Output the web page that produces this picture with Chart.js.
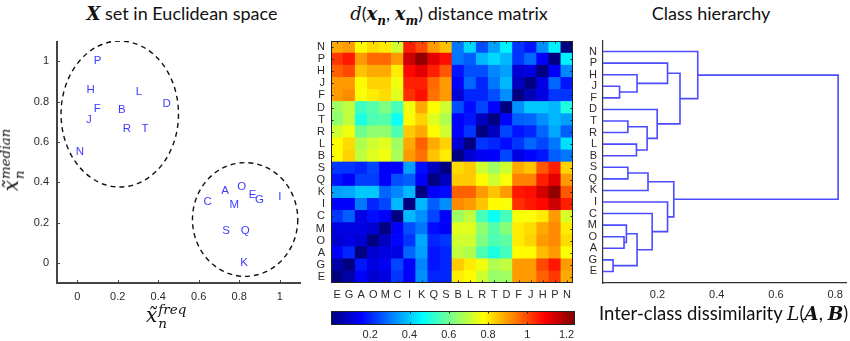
<!DOCTYPE html>
<html>
<head>
<meta charset="utf-8">
<script src="https://cdn.jsdelivr.net/npm/chart.js@4.4.1/dist/chart.umd.min.js"></script>
<style>
  body { margin: 0; background: #fff; width: 850px; height: 341px; position: relative; overflow: hidden; font-family: Lato, "Liberation Sans", sans-serif; }
  canvas { position: absolute; }
  .t { position: absolute; font-size: 18px; color: #111; white-space: nowrap; transform: translateX(-50%); z-index: 2; }
  .m { font-family: "DejaVu Serif", "Liberation Serif", serif; font-style: italic; }
  .mb { font-family: "DejaVu Serif", "Liberation Serif", serif; font-style: italic; font-weight: bold; }
  .lab { position: absolute; white-space: nowrap; z-index: 2; font-size: 20px; color: #111; }
  .ss { display: inline-block; vertical-align: middle; line-height: 1.05; font-size: 13.5px; margin-left: 1px; }
  .ss span { display: block; }
</style>
</head>
<body>
<div class="t" style="left:182px;top:2px"><span class="mb">X</span> set in Euclidean space</div>
<div class="t" style="left:449px;top:2px"><span class="m">d</span>(<span class="mb">x</span><sub class="mb" style="font-size:12px">n</sub>, <span class="mb">x</span><sub class="mb" style="font-size:12px">m</sub>) distance matrix</div>
<div class="t" style="left:711px;top:2px">Class hierarchy</div>
<div class="lab m" style="left:146px;top:302px">x&#x0303;<span class="ss"><span>freq</span><span>n</span></span></div>
<div class="lab m" style="left:12px;top:160px;transform:translate(-50%,-50%) rotate(-90deg)">x&#x0303;<span class="ss"><span>median</span><span>n</span></span></div>
<div class="lab" style="left:599px;top:302px;font-size:18.5px">Inter-class dissimilarity <span class="m">L</span>(<span class="mb">A</span>, <span class="mb">B</span>)</div>

<canvas id="scatter" width="305" height="267" style="left:0;top:41px"></canvas>
<canvas id="heat" width="267" height="264" style="left:306px;top:41px"></canvas>
<canvas id="cbar" width="244" height="30" style="left:331px;top:311px"></canvas>
<canvas id="dendro" width="269" height="263" style="left:578px;top:40px"></canvas>

<script>
// ---- scatter: classes in feature space
const letters = ['P', 'H', 'L', 'D', 'F', 'B', 'J', 'R', 'T', 'N', 'A', 'O', 'E', 'G', 'I', 'C', 'M', 'S', 'Q', 'K'];
const freqX = [0.10, 0.066, 0.305, 0.442, 0.099, 0.22, 0.058, 0.245, 0.335, 0.013, 0.73, 0.812, 0.866, 0.90, 1.0, 0.644, 0.776, 0.735, 0.829, 0.824];
const medianY = [1.0, 0.86, 0.848, 0.79, 0.763, 0.76, 0.71, 0.666, 0.666, 0.548, 0.356, 0.376, 0.339, 0.31, 0.326, 0.301, 0.286, 0.157, 0.16, 0.0];
const scatterTicks = [0, 0.2, 0.4, 0.6, 0.8, 1];
// dashed cluster outlines (data units)
const clusterCx = [0.21, 0.829];
const clusterCy = [0.738, 0.215];
const clusterRx = [0.29, 0.26];
const clusterRy = [0.362, 0.282];

// ---- distance matrix, rows/cols in this order (bottom-to-top, left-to-right)
const classOrder = ['E', 'G', 'A', 'O', 'M', 'C', 'I', 'K', 'Q', 'S', 'B', 'L', 'R', 'T', 'D', 'F', 'J', 'H', 'P', 'N'];
const distMatrix = [
  [0.00, 0.05, 0.15, 0.10, 0.12, 0.22, 0.15, 0.33, 0.20, 0.20, 0.80, 0.78, 0.72, 0.65, 0.66, 0.90, 0.90, 0.97, 1.02, 0.88], // E
  [0.05, 0.00, 0.18, 0.12, 0.14, 0.24, 0.15, 0.32, 0.18, 0.20, 0.84, 0.80, 0.76, 0.68, 0.70, 0.90, 0.90, 1.00, 1.06, 0.90], // G
  [0.15, 0.20, 0.00, 0.10, 0.12, 0.12, 0.28, 0.35, 0.18, 0.20, 0.70, 0.68, 0.56, 0.50, 0.55, 0.78, 0.78, 0.86, 0.90, 0.77], // A
  [0.10, 0.12, 0.10, 0.00, 0.08, 0.16, 0.22, 0.36, 0.20, 0.22, 0.72, 0.72, 0.62, 0.56, 0.58, 0.80, 0.83, 0.90, 0.92, 0.82], // O
  [0.12, 0.12, 0.12, 0.10, 0.00, 0.15, 0.25, 0.30, 0.17, 0.15, 0.74, 0.74, 0.64, 0.57, 0.63, 0.80, 0.82, 0.88, 0.92, 0.80], // M
  [0.22, 0.27, 0.12, 0.17, 0.15, 0.00, 0.38, 0.33, 0.24, 0.15, 0.66, 0.70, 0.55, 0.48, 0.55, 0.77, 0.77, 0.80, 0.90, 0.73], // C
  [0.15, 0.15, 0.30, 0.20, 0.24, 0.38, 0.00, 0.38, 0.27, 0.33, 0.92, 0.90, 0.85, 0.78, 0.77, 1.03, 1.06, 1.08, 1.15, 1.05], // I
  [0.35, 0.36, 0.40, 0.40, 0.28, 0.32, 0.38, 0.00, 0.15, 0.17, 0.97, 0.97, 0.90, 0.85, 0.90, 1.06, 1.07, 1.14, 1.22, 0.98], // K
  [0.18, 0.15, 0.23, 0.23, 0.15, 0.25, 0.27, 0.15, 0.00, 0.08, 0.84, 0.84, 0.78, 0.72, 0.77, 0.93, 0.93, 1.05, 1.12, 0.90], // Q
  [0.22, 0.22, 0.20, 0.24, 0.15, 0.15, 0.35, 0.17, 0.08, 0.00, 0.82, 0.84, 0.72, 0.66, 0.72, 0.88, 0.85, 0.98, 1.05, 0.83], // S
  [0.78, 0.83, 0.70, 0.74, 0.76, 0.67, 0.90, 0.95, 0.85, 0.80, 0.00, 0.10, 0.14, 0.15, 0.24, 0.12, 0.16, 0.18, 0.27, 0.30], // B
  [0.78, 0.82, 0.68, 0.72, 0.74, 0.66, 0.88, 0.97, 0.88, 0.83, 0.10, 0.00, 0.22, 0.20, 0.17, 0.22, 0.28, 0.24, 0.30, 0.43], // L
  [0.72, 0.76, 0.60, 0.64, 0.64, 0.56, 0.84, 0.88, 0.78, 0.72, 0.15, 0.22, 0.00, 0.08, 0.24, 0.18, 0.20, 0.28, 0.36, 0.27], // R
  [0.64, 0.70, 0.50, 0.56, 0.57, 0.48, 0.78, 0.83, 0.74, 0.68, 0.15, 0.18, 0.08, 0.00, 0.16, 0.27, 0.28, 0.33, 0.38, 0.35], // T
  [0.66, 0.70, 0.54, 0.57, 0.62, 0.55, 0.76, 0.88, 0.78, 0.72, 0.25, 0.17, 0.24, 0.16, 0.00, 0.33, 0.40, 0.40, 0.38, 0.50], // D
  [0.90, 0.92, 0.77, 0.80, 0.82, 0.74, 1.03, 1.07, 0.95, 0.90, 0.10, 0.20, 0.20, 0.25, 0.33, 0.00, 0.07, 0.12, 0.22, 0.22], // F
  [0.90, 0.90, 0.78, 0.83, 0.83, 0.76, 1.05, 1.05, 0.96, 0.90, 0.15, 0.28, 0.20, 0.30, 0.38, 0.08, 0.00, 0.12, 0.28, 0.18], // J
  [0.97, 1.00, 0.85, 0.88, 0.88, 0.80, 1.08, 1.12, 1.05, 0.98, 0.18, 0.25, 0.25, 0.32, 0.35, 0.10, 0.12, 0.00, 0.15, 0.32], // H
  [1.02, 1.06, 0.90, 0.96, 0.96, 0.90, 1.15, 1.22, 1.12, 1.07, 0.30, 0.27, 0.38, 0.42, 0.38, 0.22, 0.28, 0.15, 0.00, 0.45], // P
  [0.88, 0.90, 0.78, 0.82, 0.80, 0.72, 1.05, 1.00, 0.90, 0.85, 0.30, 0.42, 0.25, 0.35, 0.45, 0.22, 0.18, 0.33, 0.45, 0.00]  // N
];
const colorMax = 1.243;
const cbarTicks = [0.2, 0.4, 0.6, 0.8, 1, 1.2];

// ---- dendrogram links: child A, child B (letter or link number), height
const linkA = ['G', 'O', 'M', 3, 'C', 'I', 'S', 7, 8, 'J', 'H', 'P', 'T', 'L', 13, 'D', 12, 'N', 18];
const linkB = ['E', 'A', 2, 1, 4, 5, 'Q', 'K', 6, 'F', 10, 11, 'R', 'B', 14, 15, 16, 17, 9];
const linkH = [0.050, 0.087, 0.095, 0.131, 0.182, 0.234, 0.100, 0.168, 0.255, 0.072, 0.131, 0.234, 0.100, 0.129, 0.165, 0.199, 0.276, 0.336, 0.810];
const dendroTicks = [0.2, 0.4, 0.6, 0.8];
const dendroMin = 0.016, dendroMax = 0.84;

const tickFont = { family: 'Liberation Sans', size: 11 };
const tickColor = '#2a2a2a';

function jet(t) {
  t = Math.max(0, Math.min(1, t));
  const c = x => Math.round(255 * Math.max(0, Math.min(1, x)));
  return 'rgb(' + c(1.5 - Math.abs(4 * t - 3)) + ',' + c(1.5 - Math.abs(4 * t - 2)) + ',' + c(1.5 - Math.abs(4 * t - 1)) + ')';
}

// small inward tick marks + optional frame
const inTicks = {
  id: 'inTicks',
  afterDatasetsDraw(chart, args, opts) {
    if (!opts || !opts.sides) return;
    const ctx = chart.ctx, a = chart.chartArea, len = opts.len || 3;
    ctx.save();
    ctx.strokeStyle = opts.color || '#222';
    ctx.lineWidth = 1;
    ctx.beginPath();
    opts.sides.forEach(side => {
      const sc = (side === 'left' || side === 'right') ? chart.scales.y : chart.scales.x;
      sc.ticks.forEach((t, i) => {
        const p = Math.round(sc.getPixelForTick(i)) + 0.5;
        if (side === 'left') { ctx.moveTo(a.left, p); ctx.lineTo(a.left + len, p); }
        if (side === 'right') { ctx.moveTo(a.right, p); ctx.lineTo(a.right - len, p); }
        if (side === 'bottom') { ctx.moveTo(p, a.bottom); ctx.lineTo(p, a.bottom - len); }
        if (side === 'top') { ctx.moveTo(p, a.top); ctx.lineTo(p, a.top + len); }
      });
    });
    ctx.stroke();
    if (opts.frame) {
      ctx.strokeStyle = opts.frame;
      ctx.strokeRect(a.left + 0.5, a.top + 0.5, a.width - 1, a.height - 1);
    }
    ctx.restore();
  }
};

function fixY(w) { return s => { s.width = w; s.paddingTop = 0; s.paddingBottom = 0; }; }
function fixX(h) { return s => { s.height = h; s.paddingLeft = 0; s.paddingRight = 0; }; }
function setTicks(vals) { return s => { s.ticks = vals.map(v => ({ value: v })); }; }

// ---------------- scatter ----------------
const scatterLabels = {
  id: 'scatterLabels',
  afterDatasetsDraw(chart) {
    const ctx = chart.ctx, xs = chart.scales.x, ys = chart.scales.y;
    ctx.save();
    ctx.strokeStyle = '#111';
    ctx.lineWidth = 1.4;
    ctx.setLineDash([5, 4]);
    clusterCx.forEach((cx, i) => {
      const px = xs.getPixelForValue(cx), py = ys.getPixelForValue(clusterCy[i]);
      const rx = Math.abs(xs.getPixelForValue(cx + clusterRx[i]) - px);
      const ry = Math.abs(ys.getPixelForValue(clusterCy[i] + clusterRy[i]) - py);
      ctx.beginPath();
      ctx.ellipse(px, py, rx, ry, 0, 0, Math.PI * 2);
      ctx.stroke();
    });
    ctx.setLineDash([]);
    ctx.fillStyle = '#3c3cff';
    ctx.font = '11.5px "Liberation Sans"';
    ctx.textAlign = 'center';
    ctx.textBaseline = 'middle';
    chart.getDatasetMeta(0).data.forEach((pt, i) => ctx.fillText(letters[i], pt.x, pt.y));
    ctx.restore();
  }
};

new Chart(document.getElementById('scatter'), {
  type: 'scatter',
  data: { datasets: [{ data: letters.map((l, i) => ({ x: freqX[i], y: medianY[i] })), pointRadius: 0 }] },
  options: {
    responsive: false, animation: false, events: [],
    layout: { padding: { top: 0, right: 5, bottom: 0, left: 0 } },
    plugins: { legend: { display: false }, tooltip: { enabled: false }, inTicks: { sides: ['left', 'bottom'], len: 3, color: '#444' } },
    scales: {
      x: {
        type: 'linear', min: -0.1, max: 1.1,
        afterBuildTicks: setTicks(scatterTicks), afterFit: fixX(25),
        grid: { display: true, drawOnChartArea: false, drawTicks: false },
        border: { color: '#444', width: 2 },
        ticks: { padding: 7, font: tickFont, color: tickColor, callback: v => String(v) }
      },
      y: {
        type: 'linear', min: -0.1, max: 1.1,
        afterBuildTicks: setTicks(scatterTicks), afterFit: fixY(57),
        grid: { display: true, drawOnChartArea: false, drawTicks: false },
        border: { color: '#444', width: 2 },
        ticks: { padding: 8, font: tickFont, color: tickColor, callback: v => String(v) }
      }
    }
  },
  plugins: [scatterLabels, inTicks]
});

// ---------------- distance matrix ----------------
new Chart(document.getElementById('heat'), {
  type: 'bar',
  data: {
    labels: classOrder,
    datasets: distMatrix.map(row => ({
      data: row.map(() => 1),
      backgroundColor: row.map(v => jet(v / colorMax)),
      borderWidth: 0, barPercentage: 1, categoryPercentage: 1, stack: 'm'
    }))
  },
  options: {
    responsive: false, animation: false, events: [],
    layout: { padding: 0 },
    plugins: { legend: { display: false }, tooltip: { enabled: false }, inTicks: { sides: ['left', 'right', 'top', 'bottom'], len: 2.5, color: '#222', frame: '#222' } },
    scales: {
      x: {
        stacked: true, afterFit: fixX(22),
        grid: { display: true, drawOnChartArea: false, drawTicks: false },
        border: { display: false },
        ticks: { padding: 5, autoSkip: false, maxRotation: 0, font: tickFont, color: tickColor }
      },
      y: {
        type: 'linear', stacked: true, min: 0, max: 20,
        afterBuildTicks: setTicks(classOrder.map((c, i) => i + 0.5)), afterFit: fixY(25),
        grid: { display: true, drawOnChartArea: false, drawTicks: false },
        border: { display: false },
        ticks: { padding: 6, autoSkip: false, font: tickFont, color: tickColor, callback: v => classOrder[Math.floor(v)] }
      }
    }
  },
  plugins: [inTicks]
});

// ---------------- colour bar ----------------
new Chart(document.getElementById('cbar'), {
  type: 'bar',
  data: {
    labels: ['d'],
    datasets: [{
      data: [[0, colorMax]],
      barPercentage: 1, categoryPercentage: 1, borderWidth: 0,
      backgroundColor: c => {
        const a = c.chart.chartArea;
        if (!a) return '#00f';
        const g = c.chart.ctx.createLinearGradient(a.left, 0, a.right, 0);
        for (let i = 0; i <= 32; i++) g.addColorStop(i / 32, jet(i / 32));
        return g;
      }
    }]
  },
  options: {
    indexAxis: 'y', responsive: false, animation: false, events: [],
    layout: { padding: 0 },
    plugins: { legend: { display: false }, tooltip: { enabled: false }, inTicks: { sides: ['top', 'bottom'], len: 2.5, color: '#222', frame: '#222' } },
    scales: {
      x: {
        type: 'linear', min: 0, max: colorMax,
        afterBuildTicks: setTicks(cbarTicks), afterFit: fixX(16),
        grid: { display: true, drawOnChartArea: false, drawTicks: false },
        border: { display: false },
        ticks: { padding: 3, font: tickFont, color: tickColor, callback: v => String(v) }
      },
      y: { display: false }
    }
  },
  plugins: [inTicks]
});

// ---------------- dendrogram ----------------
const pos = {}, hgt = {};
classOrder.forEach((c, i) => { pos[c] = i + 1; hgt[c] = dendroMin; });
const linkSegments = linkA.map((a, k) => {
  const b = linkB[k], h = linkH[k];
  const pts = [{ x: hgt[a], y: pos[a] }, { x: h, y: pos[a] }, { x: h, y: pos[b] }, { x: hgt[b], y: pos[b] }];
  pos[k + 1] = (pos[a] + pos[b]) / 2;
  hgt[k + 1] = h;
  return pts;
});

new Chart(document.getElementById('dendro'), {
  type: 'scatter',
  data: {
    datasets: linkSegments.map(pts => ({
      data: pts, showLine: true, pointRadius: 0, borderColor: '#4b4bff', borderWidth: 1.6, tension: 0
    }))
  },
  options: {
    responsive: false, animation: false, events: [],
    layout: { padding: 0 },
    plugins: { legend: { display: false }, tooltip: { enabled: false } },
    scales: {
      x: {
        type: 'linear', min: dendroMin, max: dendroMax,
        afterBuildTicks: setTicks(dendroTicks), afterFit: fixX(20),
        grid: { display: true, drawOnChartArea: false, drawTicks: false },
        border: { color: '#333', width: 1.2 },
        ticks: { padding: 5, font: tickFont, color: tickColor, callback: v => String(v) }
      },
      y: {
        type: 'linear', min: 0, max: 21,
        afterBuildTicks: setTicks(classOrder.map((c, i) => i + 1)), afterFit: fixY(25),
        grid: { display: true, drawOnChartArea: false, drawTicks: false },
        border: { color: '#333', width: 1.2 },
        ticks: { padding: 6, autoSkip: false, font: tickFont, color: tickColor, callback: v => classOrder[v - 1] }
      }
    }
  }
});
</script>
</body>
</html>
